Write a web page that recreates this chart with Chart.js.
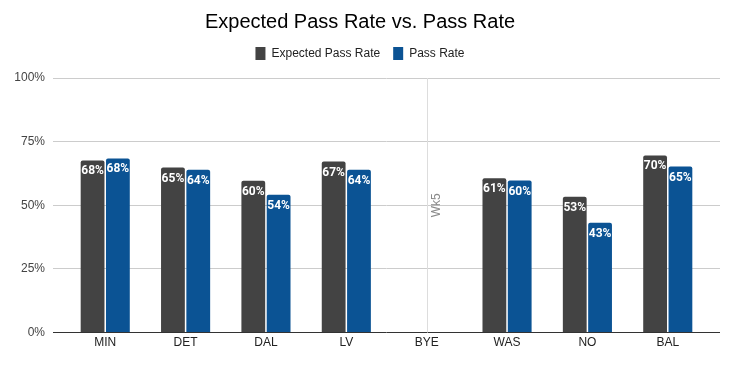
<!DOCTYPE html>
<html lang="en">

<head>
  <meta charset="utf-8">
  <title>Expected Pass Rate vs. Pass Rate</title>
  <style>
    body { margin: 0; background: #fff; }
    #wrap { width: 734px; height: 365px; }
  </style>
</head>

<body>
  <div id="wrap"><canvas id="myChart"></canvas></div>
  <script src="https://cdn.jsdelivr.net/npm/chart.js@4/dist/chart.umd.min.js"></script>
  <script>
    var opponents = ['MIN', 'DET', 'DAL', 'LV', 'BYE', 'WAS', 'NO', 'BAL'];
    var expectedPassRate = [67.6, 64.8, 59.6, 67.2, null, 60.6, 53.4, 69.6];
    var passRate = [68.4, 64.0, 54.1, 64.0, null, 59.7, 43.1, 65.2];
    var yTicks = [0, 25, 50, 75, 100];
    var byeLabel = 'Wk5';

    // linear x so the plot can run wider than the bar groups
    function toPoints(arr) {
      var out = [];
      for (var i = 0; i < arr.length; i++) {
        if (arr[i] != null) out.push({ x: i, y: arr[i] });
      }
      return out;
    }

    var barLabels = {
      id: 'barLabels',
      afterDatasetsDraw: function (chart) {
        var c = chart.ctx;
        c.save();
        c.font = 'bold 12px Roboto';
        c.fillStyle = '#fff';
        c.textAlign = 'center';
        c.textBaseline = 'middle';
        chart.data.datasets.forEach(function (ds, di) {
          chart.getDatasetMeta(di).data.forEach(function (bar, j) {
            c.fillText(Math.round(ds.data[j].y) + '%', bar.x, bar.y + 11);
          });
        });
        c.restore();
      }
    };

    var byeMarker = {
      id: 'byeMarker',
      beforeDatasetsDraw: function (chart) {
        var c = chart.ctx;
        var area = chart.chartArea;
        var x = Math.round(chart.scales.x.getPixelForValue(opponents.indexOf('BYE'))) + 0.5;
        c.save();
        c.strokeStyle = '#dddddd';
        c.lineWidth = 1;
        c.beginPath();
        c.moveTo(x, area.top);
        c.lineTo(x, area.bottom);
        c.stroke();
        c.translate(x + 9, (area.top + area.bottom) / 2);
        c.rotate(-Math.PI / 2);
        c.font = '12px "Liberation Sans", Arial';
        c.fillStyle = '#8a8a8a';
        c.textAlign = 'center';
        c.textBaseline = 'middle';
        c.fillText(byeLabel, 0, 0);
        c.restore();
      }
    };

    // a bit more room under the legend
    var legendGap = {
      id: 'legendGap',
      beforeInit: function (chart) {
        var fit = chart.legend.fit;
        chart.legend.fit = function () {
          fit.bind(chart.legend)();
          this.height += 8;
        };
      }
    };

    var ctx = document.getElementById('myChart').getContext('2d');
    var chart = new Chart(ctx, {
      type: 'bar',
      data: {
        datasets: [{
          label: 'Expected Pass Rate',
          data: toPoints(expectedPassRate),
          backgroundColor: '#434343',
          borderRadius: 2,
          borderSkipped: 'start'
        }, {
          label: 'Pass Rate',
          data: toPoints(passRate),
          backgroundColor: '#0b5394',
          borderRadius: 2,
          borderSkipped: 'start'
        }]
      },
      options: {
        responsive: true,
        maintainAspectRatio: false,
        animation: false,
        categoryPercentage: 0.63,
        barPercentage: 0.94,
        layout: { padding: { left: 0, right: 14, top: 0, bottom: 12 } },
        plugins: {
          title: {
            display: true,
            text: 'Expected Pass Rate vs. Pass Rate',
            color: '#000',
            font: { family: '"Liberation Sans", Arial', size: 20, weight: 'normal' },
            padding: { top: 10, bottom: 0 }
          },
          legend: {
            labels: {
              color: '#222',
              font: { family: '"Liberation Sans", Arial', size: 12 },
              boxWidth: 10,
              boxHeight: 13,
              padding: 13
            }
          },
          tooltip: { enabled: false }
        },
        scales: {
          x: {
            type: 'linear',
            offset: false,
            min: -0.65,
            max: opponents.length - 0.35,
            grid: { display: false, drawTicks: false, offset: false },
            border: { display: false },
            afterBuildTicks: function (scale) {
              scale.ticks = opponents.map(function (o, i) { return { value: i }; });
            },
            ticks: {
              color: '#222',
              font: { family: '"Liberation Sans", Arial', size: 12 },
              padding: 3,
              maxRotation: 0,
              autoSkip: false,
              callback: function (v) { return opponents[v]; }
            }
          },
          y: {
            min: 0,
            max: 100,
            afterBuildTicks: function (scale) {
              scale.ticks = yTicks.map(function (t) { return { value: t }; });
            },
            afterFit: function (scale) { scale.width = 53; },
            border: { display: false },
            grid: {
              drawTicks: false,
              color: function (c) { return c.tick.value === 0 ? '#333333' : '#cccccc'; }
            },
            ticks: {
              color: '#444',
              font: { family: '"Liberation Sans", Arial', size: 12 },
              padding: 8,
              callback: function (v) { return v + '%'; }
            }
          }
        }
      },
      plugins: [legendGap, byeMarker, barLabels]
    });
  </script>
</body>

</html>
